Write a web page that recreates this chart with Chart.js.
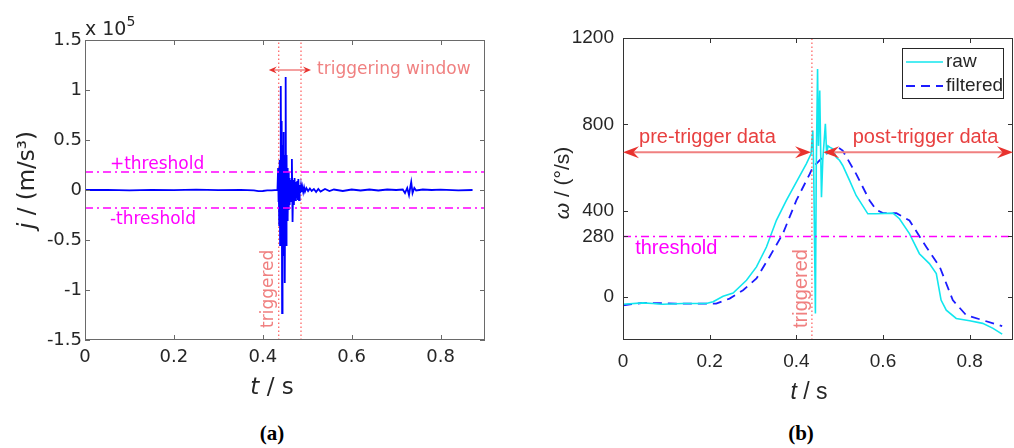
<!DOCTYPE html>
<html>
<head>
<meta charset="utf-8">
<script src="https://cdn.jsdelivr.net/npm/chart.js@4.4.1/dist/chart.umd.min.js"></script>
<style>
    body { margin: 0; background: #fff; width: 1014px; height: 448px; position: relative; overflow: hidden; }
    #wrap-a { position: absolute; left: 0; top: 0; width: 500px; height: 400px; }
    #wrap-b { position: absolute; left: 510px; top: 0; width: 504px; height: 400px; }
    .caption { position: absolute; top: 421px; font: bold 21px 'Liberation Serif', serif; color: #000; transform: translateX(-50%); }
</style>
</head>
<body>
<div id="wrap-a"><canvas id="chart-a" width="500" height="400"></canvas></div>
<div id="wrap-b"><canvas id="chart-b" width="504" height="400"></canvas></div>
<div class="caption" style="left:272px">(a)</div>
<div class="caption" style="left:801px">(b)</div>
<script>
// (a) jerk, in units of 1e5 m/s^3
const jerkTime = [0, 0.05, 0.1, 0.15, 0.2, 0.25, 0.3, 0.35, 0.38, 0.39, 0.4, 0.41, 0.42, 0.433,
    0.4345, 0.435, 0.436, 0.437, 0.438, 0.439, 0.4405, 0.4415, 0.4425, 0.4435, 0.4445, 0.4455,
    0.4465, 0.4475, 0.4485, 0.4495, 0.4505, 0.4515, 0.4525, 0.4535, 0.4545, 0.4555, 0.4565,
    0.4575, 0.4585, 0.4595, 0.4605, 0.4615, 0.4625, 0.4635, 0.4655, 0.467, 0.4685, 0.47,
    0.4715, 0.473, 0.4745, 0.476, 0.4775, 0.479, 0.48, 0.4815, 0.483, 0.4845, 0.486, 0.4875,
    0.489, 0.491, 0.493, 0.495, 0.498, 0.502, 0.506, 0.51, 0.515, 0.52, 0.525, 0.53, 0.54,
    0.55, 0.56, 0.58, 0.6, 0.62, 0.64, 0.66, 0.68, 0.7, 0.715, 0.72, 0.725, 0.729, 0.732,
    0.734, 0.737, 0.741, 0.745, 0.76, 0.78, 0.8, 0.84, 0.872];
const jerkValue = [0, 0.002, -0.003, 0.002, -0.002, 0.003, -0.002, 0.002, -0.004, -0.012, -0.01, -0.004, -0.003, 0,
    0.22, -0.12, 0.22, -0.35, 0.3, -0.55, 1.04, -0.2, 0.69, -1.23, 0.45, -0.65,
    0.58, -0.45, 0.35, -0.93, 0.25, 1.13, -0.55, 0.35, -0.3, 0.22, -0.28,
    0.18, -0.2, 0.12, -0.15, 0.1, -0.12, 0.08, 0.31, -0.32, 0.1, -0.15,
    0.12, -0.1, 0.08, -0.08, 0.09, -0.1, 0.11, -0.1, 0.05, -0.03, 0.04, -0.02,
    0.03, -0.02, 0.025, -0.015, 0.02, -0.01, 0.015, -0.01, 0.01, -0.02, 0.01, -0.015, 0.01,
    -0.01, 0.005, -0.01, 0.005, -0.005, 0.005, -0.005, 0.005, 0, 0.005, -0.03, 0.02, -0.05, 0.03,
    0.08, -0.03, 0.02, -0.005, 0.005, 0, 0.003, -0.003, 0];

// (b) angular velocity, deg/s
const rawTime = [0, 0.046, 0.069, 0.092, 0.138, 0.192, 0.208, 0.231, 0.254, 0.285, 0.308, 0.331,
    0.354, 0.377, 0.4, 0.423, 0.434, 0.438, 0.44, 0.444, 0.446, 0.449, 0.451, 0.454, 0.456,
    0.458, 0.461, 0.467, 0.47, 0.473, 0.477, 0.484, 0.492, 0.5, 0.507, 0.523, 0.538, 0.565,
    0.584, 0.623, 0.638, 0.661, 0.684, 0.707, 0.723, 0.734, 0.746, 0.769, 0.8, 0.83, 0.854, 0.875];
const rawOmega = [-34, -28, -31, -34, -31, -31, -23, 3, 18, 77, 139, 231,
    355, 447, 532, 617, 663, 771, 600, -77, 600, 1056, 700, 956, 700,
    462, 632, 802, 660, 700, 694, 686, 647, 632, 609, 539, 470, 385,
    385, 388, 362, 293, 200, 154, 108, -15, -62, -100, -111, -123, -146, -173];
const filtTime = [0, 0.046, 0.123, 0.215, 0.246, 0.277, 0.308, 0.338, 0.369, 0.4, 0.431, 0.438,
    0.469, 0.496, 0.507, 0.538, 0.569, 0.584, 0.6, 0.631, 0.661, 0.7, 0.731, 0.761, 0.792, 0.83, 0.875];
const filtOmega = [-39, -28, -31, -31, -8, 31, 85, 185, 293, 447, 570, 601,
    663, 694, 678, 570, 447, 404, 388, 388, 354, 231, 139, -15, -85, -108, -136];

const timeTicks = [0, 0.2, 0.4, 0.6, 0.8];
const jerkTicks = [-1.5, -1, -0.5, 0, 0.5, 1, 1.5];
const omegaTicks = [0, 280, 400, 800, 1200];

const jerkThreshold = 0.18;
const omegaThreshold = 280;
const triggerTime = 0.436;
const windowEnd = 0.486;
const windowArrowY = 1.2;
const dataArrowY = 670;

const FONT_A = "'DejaVu Sans', sans-serif";
const FONT_B = "'Liberation Sans', Arial, sans-serif";
const AXIS = '#262626';
const CORAL = '#f08080';
const ARROW_HEAD = '#e8322e';

const pairs = (xs, ys) => xs.map((x, i) => ({ x: x, y: ys[i] }));

const timeScale = (pad, height, font, size) => ({
    type: 'linear', min: 0, max: 0.9,
    grid: { display: false, drawTicks: false }, border: { display: false },
    afterBuildTicks: s => { s.ticks = timeTicks.map(v => ({ value: v })); },
    afterFit: s => { s.height = height; },
    ticks: { padding: pad, color: AXIS, font: { family: font, size: size }, maxRotation: 0, callback: v => String(v) }
});

const valueScale = (min, max, list, pad, width, font, size) => ({
    type: 'linear', min: min, max: max,
    grid: { display: false, drawTicks: false }, border: { display: false },
    afterBuildTicks: s => { s.ticks = list.map(v => ({ value: v })); },
    afterFit: s => { s.width = width; },
    ticks: { padding: pad, color: AXIS, font: { family: font, size: size }, callback: v => String(v) }
});

// box with inward ticks on all four sides, like the original axes
const frame = (xList, yList, color) => ({
    id: 'frame',
    afterDraw(chart) {
        const { ctx, chartArea: a, scales: { x, y } } = chart;
        ctx.save();
        ctx.strokeStyle = color;
        ctx.lineWidth = 1;
        ctx.strokeRect(a.left + 0.5, a.top + 0.5, a.right - a.left - 1, a.bottom - a.top - 1);
        ctx.beginPath();
        xList.forEach(v => {
            const px = Math.round(x.getPixelForValue(v)) + 0.5;
            ctx.moveTo(px, a.bottom); ctx.lineTo(px, a.bottom - 5);
            ctx.moveTo(px, a.top); ctx.lineTo(px, a.top + 5);
        });
        yList.forEach(v => {
            const py = Math.round(y.getPixelForValue(v)) + 0.5;
            ctx.moveTo(a.left, py); ctx.lineTo(a.left + 5, py);
            ctx.moveTo(a.right, py); ctx.lineTo(a.right - 5, py);
        });
        ctx.stroke();
        ctx.restore();
    }
});

const head = (ctx, tip, y, dir, len, w) => {
    ctx.beginPath();
    ctx.moveTo(tip, y);
    ctx.lineTo(tip + dir * len, y - w);
    ctx.lineTo(tip + dir * len * 0.65, y);
    ctx.lineTo(tip + dir * len, y + w);
    ctx.closePath();
    ctx.fill();
};

const doubleArrow = (ctx, x1, x2, y, len, w, lw) => {
    ctx.strokeStyle = CORAL;
    ctx.lineWidth = lw;
    ctx.beginPath();
    ctx.moveTo(x1 + len * 0.6, y); ctx.lineTo(x2 - len * 0.6, y);
    ctx.stroke();
    ctx.fillStyle = ARROW_HEAD;
    head(ctx, x1, y, 1, len, w);
    head(ctx, x2, y, -1, len, w);
};

const mixedTitle = (ctx, italicPart, rest, size, font, cx, cy, rotate) => {
    ctx.save();
    ctx.translate(cx, cy);
    if (rotate) ctx.rotate(-Math.PI / 2);
    ctx.fillStyle = AXIS;
    ctx.textBaseline = 'middle';
    ctx.font = `italic ${size}px ${font}`;
    const w1 = ctx.measureText(italicPart).width;
    ctx.font = `${size}px ${font}`;
    const w2 = ctx.measureText(rest).width;
    const start = -(w1 + w2) / 2;
    ctx.textAlign = 'left';
    ctx.font = `italic ${size}px ${font}`;
    ctx.fillText(italicPart, start, 0);
    ctx.font = `${size}px ${font}`;
    ctx.fillText(rest, start + w1, 0);
    ctx.restore();
};

const verticalLabel = (ctx, text, x, yBottom, font) => {
    ctx.save();
    ctx.translate(x, yBottom);
    ctx.rotate(-Math.PI / 2);
    ctx.fillStyle = CORAL;
    ctx.font = font;
    ctx.textAlign = 'left';
    ctx.textBaseline = 'alphabetic';
    ctx.fillText(text, 0, 0);
    ctx.restore();
};

const notesA = {
    id: 'notesA',
    afterDraw(chart) {
        const { ctx, chartArea: a, scales: { x, y } } = chart;
        ctx.save();
        // exponent
        ctx.fillStyle = AXIS;
        ctx.textBaseline = 'alphabetic';
        ctx.textAlign = 'left';
        ctx.font = `19px ${FONT_A}`;
        ctx.fillText('x 10', a.left, a.top - 5);
        const w = ctx.measureText('x 10').width;
        ctx.font = `14px ${FONT_A}`;
        ctx.fillText('5', a.left + w, a.top - 14);

        ctx.font = `17px ${FONT_A}`;
        ctx.fillStyle = '#ff00ff';
        ctx.fillText('+threshold', x.getPixelForValue(0.056), y.getPixelForValue(jerkThreshold) - 3);
        ctx.textBaseline = 'middle';
        ctx.fillText('-threshold', x.getPixelForValue(0.056), y.getPixelForValue(-jerkThreshold) + 12);

        const ay = y.getPixelForValue(windowArrowY);
        const x1 = x.getPixelForValue(triggerTime), x2 = x.getPixelForValue(windowEnd);
        doubleArrow(ctx, x1 - 10, x2 + 10, ay, 8, 3.5, 1.5);
        ctx.fillStyle = CORAL;
        ctx.font = `17px ${FONT_A}`;
        ctx.textBaseline = 'middle';
        ctx.fillText('triggering window', x2 + 16, ay);

        verticalLabel(ctx, 'triggered', x1 - 6, a.bottom - 12, `17px ${FONT_A}`);

        mixedTitle(ctx, 't', ' / s', 23, FONT_A, 272, 388, false);
        mixedTitle(ctx, 'j', ' / (m/s³)', 23, FONT_A, 28, 180, true);
        ctx.restore();
    }
};

const notesB = {
    id: 'notesB',
    afterDraw(chart) {
        const { ctx, chartArea: a, scales: { x, y } } = chart;
        ctx.save();
        const ay = y.getPixelForValue(dataArrowY);
        doubleArrow(ctx, x.getPixelForValue(0), x.getPixelForValue(0.434), ay, 16, 6, 2);
        doubleArrow(ctx, x.getPixelForValue(0.462), x.getPixelForValue(0.9), ay, 16, 6, 2);
        ctx.fillStyle = '#e84040';
        ctx.font = `20px ${FONT_B}`;
        ctx.textAlign = 'left';
        ctx.textBaseline = 'alphabetic';
        ctx.fillText('pre-trigger data', x.getPixelForValue(0.037), ay - 9);
        ctx.fillText('post-trigger data', x.getPixelForValue(0.53), ay - 9);

        ctx.fillStyle = '#ff00ff';
        ctx.textBaseline = 'middle';
        ctx.fillText('threshold', x.getPixelForValue(0.028), y.getPixelForValue(omegaThreshold) + 12);

        verticalLabel(ctx, 'triggered', x.getPixelForValue(triggerTime) - 5, a.bottom - 12, `20px ${FONT_B}`);

        // legend box
        const lx = 392, ly = 48, lw = 101, lh = 50;
        ctx.fillStyle = '#fff';
        ctx.fillRect(lx, ly, lw, lh);
        ctx.strokeStyle = AXIS;
        ctx.lineWidth = 1;
        ctx.strokeRect(lx + 0.5, ly + 0.5, lw, lh);
        const items = chart.data.datasets.filter(d => d.label);
        items.forEach((d, i) => {
            const yy = ly + 14 + i * 24;
            ctx.strokeStyle = d.borderColor;
            ctx.lineWidth = d.borderWidth;
            ctx.setLineDash(d.borderDash || []);
            ctx.beginPath();
            ctx.moveTo(lx + 4, yy); ctx.lineTo(lx + 41, yy);
            ctx.stroke();
            ctx.setLineDash([]);
            ctx.fillStyle = AXIS;
            ctx.font = `19px ${FONT_B}`;
            ctx.textBaseline = 'middle';
            ctx.fillText(d.label, lx + 44, yy);
        });

        mixedTitle(ctx, 't', ' / s', 23, FONT_B, 299, 393, false);
        mixedTitle(ctx, 'ω', ' / (°/s)', 21, FONT_B, 53, 183, true);
        ctx.restore();
    }
};

const lineSet = (data, color, width, dash, label) => ({
    label: label, data: data, borderColor: color, borderWidth: width, borderDash: dash || [],
    pointRadius: 0, fill: false, tension: 0
});

new Chart(document.getElementById('chart-a'), {
    type: 'line',
    data: {
        datasets: [
            lineSet([{ x: 0, y: jerkThreshold }, { x: 0.9, y: jerkThreshold }], '#ff00ff', 1.5, [8, 4, 2, 4]),
            lineSet([{ x: 0, y: -jerkThreshold }, { x: 0.9, y: -jerkThreshold }], '#ff00ff', 1.5, [8, 4, 2, 4]),
            lineSet(pairs(jerkTime, jerkValue), '#0000ff', 1.8),
            lineSet([{ x: triggerTime, y: -1.5 }, { x: triggerTime, y: 1.5 }], '#ff3b3b', 1, [1.5, 2.5]),
            lineSet([{ x: windowEnd, y: -1.5 }, { x: windowEnd, y: 1.5 }], '#ff3b3b', 1, [1.5, 2.5])
        ]
    },
    options: {
        responsive: false, animation: false, devicePixelRatio: 1,
        layout: { padding: { left: 0, right: 15, top: 40, bottom: 0 } },
        scales: {
            x: timeScale(7, 60, FONT_A, 18),
            y: valueScale(-1.5, 1.5, jerkTicks, 3, 85, FONT_A, 18)
        },
        plugins: { legend: { display: false }, tooltip: { enabled: false } }
    },
    plugins: [frame(timeTicks, jerkTicks, '#6a6a6a'), notesA]
});

new Chart(document.getElementById('chart-b'), {
    type: 'line',
    data: {
        datasets: [
            lineSet([{ x: 0, y: omegaThreshold }, { x: 0.9, y: omegaThreshold }], '#ff00ff', 1.5, [8, 4, 2, 4]),
            lineSet([{ x: triggerTime, y: -200 }, { x: triggerTime, y: 1200 }], '#ff3b3b', 1, [1.5, 2.5]),
            lineSet(pairs(rawTime, rawOmega), '#12e6ee', 1.6, null, 'raw'),
            lineSet(pairs(filtTime, filtOmega), '#1c1cff', 1.8, [9, 6], 'filtered')
        ]
    },
    options: {
        responsive: false, animation: false, devicePixelRatio: 1,
        layout: { padding: { left: 0, right: 1, top: 38, bottom: 0 } },
        scales: {
            x: timeScale(10, 60, FONT_B, 19),
            y: valueScale(-200, 1200, omegaTicks, 9, 113, FONT_B, 19)
        },
        plugins: { legend: { display: false }, tooltip: { enabled: false } }
    },
    plugins: [frame(timeTicks, omegaTicks, '#333333'), notesB]
});
</script>
</body>
</html>
